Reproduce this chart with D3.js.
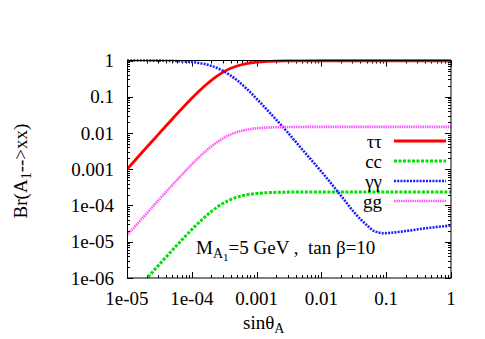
<!DOCTYPE html>
<html>
<head>
<meta charset="utf-8">
<script src="https://cdn.jsdelivr.net/npm/d3@7"></script>
<style>
  body { margin: 0; background: #fff; }
  text { font-family: "Liberation Serif", "DejaVu Serif", serif; fill: #000; }
</style>
</head>
<body>
<svg id="chart" width="485" height="339"></svg>
<script>
// values
const sGrid = [1e-5, 1.5e-5, 2e-5, 3e-5, 5e-5, 7e-5, 1e-4, 1.5e-4, 2e-4, 3e-4, 4e-4, 5e-4, 7e-4,
               1e-3, 1.5e-3, 2e-3, 3e-3, 5e-3, 1e-2, 0.1, 1];
const brTauTau = [1.0e-3, 2.25e-3, 3.98e-3, 8.9e-3, 0.0244, 0.0467, 0.091, 0.183, 0.284, 0.47, 0.61, 0.707, 0.82,
                  0.897, 0.944, 0.962, 0.974, 0.981, 0.984, 0.985, 0.985];
const brCC = [2.4e-7, 5.4e-7, 9.55e-7, 2.14e-6, 5.86e-6, 1.12e-5, 2.18e-5, 4.39e-5, 6.82e-5, 1.13e-4, 1.46e-4, 1.70e-4, 1.97e-4,
              2.15e-4, 2.27e-4, 2.31e-4, 2.34e-4, 2.35e-4, 2.36e-4, 2.36e-4, 2.36e-4];
const brGG = [1.5e-5, 3.37e-5, 5.97e-5, 1.34e-4, 3.66e-4, 7.0e-4, 1.37e-3, 2.75e-3, 4.26e-3, 7.05e-3, 9.15e-3, 0.0106, 0.0123,
              0.01345, 0.01416, 0.01443, 0.0146, 0.0147, 0.01476, 0.01478, 0.01478];
const sGamma = [1e-5, 3e-5, 5e-5, 7e-5, 1e-4, 1.5e-4, 2e-4, 3e-4, 4e-4, 5e-4, 7e-4, 1e-3, 1.5e-3, 2e-3, 3e-3,
                5e-3, 1e-2, 0.0176, 0.0405, 0.05, 0.064, 0.092, 0.168, 0.44, 1];
const brGamma = [0.999, 0.991, 0.976, 0.952, 0.908, 0.814, 0.711, 0.522, 0.381, 0.283, 0.167, 0.088, 0.041, 0.0235, 0.0105,
                 3.6e-3, 8.6e-4, 2.5e-4, 4.1e-5, 2.9e-5, 2.0e-5, 1.72e-5, 1.9e-5, 2.4e-5, 2.8e-5];

const xTickVals = [1e-5, 1e-4, 1e-3, 1e-2, 0.1, 1];
const xTickLabels = ["1e-05", "1e-04", "0.001", "0.01", "0.1", "1"];
const yTickVals = [1, 0.1, 0.01, 0.001, 1e-4, 1e-5, 1e-6];
const yTickLabels = ["1", "0.1", "0.01", "0.001", "1e-04", "1e-05", "1e-06"];

const legendNames = ["\u03c4\u03c4", "cc", "\u03b3\u03b3", "gg"];

let svg = d3.select("#chart");
svg.append("rect").attr("width", 485).attr("height", 339).attr("fill", "#fff");

let pLeft = 127, pRight = 451, pTop = 60.5, pBottom = 278;

let xMap = d3.scaleLog().domain([1e-5, 1]).range([pLeft, pRight]);
let yMap = d3.scaleLog().domain([1e-6, 1]).range([pBottom, pTop]);

svg.append("clipPath").attr("id", "plotclip")
    .append("rect").attr("x", pLeft).attr("y", pTop - 3)
    .attr("width", pRight - pLeft).attr("height", pBottom - pTop + 3);

// minor ticks at 2..9 of every decade
let minorX = [], minorY = [];
for (let e = -5; e < 0; e++) for (let m = 2; m <= 9; m++) minorX.push(m * Math.pow(10, e));
for (let e = -6; e < 0; e++) for (let m = 2; m <= 9; m++) minorY.push(m * Math.pow(10, e));

let ticks = svg.append("g").attr("stroke", "#000").attr("stroke-width", 1);
xTickVals.forEach(v => {
    let x = Math.round(xMap(v)) + 0.5;
    ticks.append("line").attr("x1", x).attr("x2", x).attr("y1", pBottom).attr("y2", pBottom - 6);
    ticks.append("line").attr("x1", x).attr("x2", x).attr("y1", pTop).attr("y2", pTop + 6);
});
minorX.forEach(v => {
    let x = Math.round(xMap(v)) + 0.5;
    ticks.append("line").attr("x1", x).attr("x2", x).attr("y1", pBottom).attr("y2", pBottom - 3);
    ticks.append("line").attr("x1", x).attr("x2", x).attr("y1", pTop).attr("y2", pTop + 3);
});
yTickVals.forEach(v => {
    let y = Math.round(yMap(v)) + 0.5;
    ticks.append("line").attr("x1", pLeft).attr("x2", pLeft + 6).attr("y1", y).attr("y2", y);
    ticks.append("line").attr("x1", pRight).attr("x2", pRight - 6).attr("y1", y).attr("y2", y);
});
minorY.forEach(v => {
    let y = Math.round(yMap(v)) + 0.5;
    ticks.append("line").attr("x1", pLeft).attr("x2", pLeft + 3).attr("y1", y).attr("y2", y);
    ticks.append("line").attr("x1", pRight).attr("x2", pRight - 3).attr("y1", y).attr("y2", y);
});

// tick labels
svg.append("g").selectAll("text").data(xTickVals).enter().append("text")
    .attr("x", d => xMap(d)).attr("y", 305)
    .attr("text-anchor", "middle").attr("font-size", 19)
    .text((d, i) => xTickLabels[i]);
svg.append("g").selectAll("text").data(yTickVals).enter().append("text")
    .attr("x", 114).attr("y", d => yMap(d) + 6.5)
    .attr("text-anchor", "end").attr("font-size", 19)
    .text((d, i) => yTickLabels[i]);

// curves
let line = d3.line().x(d => xMap(d[0])).y(d => yMap(d[1])).curve(d3.curveMonotoneX);
let series = [
    {pts: d3.zip(sGrid, brTauTau), color: "#ff0000", width: 2.8, dash: null},
    {pts: d3.zip(sGrid, brCC), color: "#00e000", width: 3, dash: "3,1.5"},
    {pts: d3.zip(sGamma, brGamma), color: "#1c1cff", width: 2.6, dash: "2,1.2"},
    {pts: d3.zip(sGrid, brGG), color: "#ff55ff", width: 2.6, dash: "1.5,0.8"}
];
let curves = svg.append("g").attr("clip-path", "url(#plotclip)");
series.forEach(s => {
    curves.append("path").attr("d", line(s.pts))
        .attr("fill", "none").attr("stroke", s.color)
        .attr("stroke-width", s.width)
        .attr("stroke-dasharray", s.dash);
});

// legend
let legY = d3.scalePoint().domain(legendNames).range([141, 201]);
let leg = svg.append("g");
series.forEach((s, i) => {
    let y = legY(legendNames[i]);
    leg.append("line").attr("x1", 394).attr("x2", 446).attr("y1", y).attr("y2", y)
        .attr("stroke", s.color).attr("stroke-width", s.width).attr("stroke-dasharray", s.dash);
    leg.append("text").attr("x", 382).attr("y", y + 6.5)
        .attr("text-anchor", "end").attr("font-size", 19).text(legendNames[i]);
});

// border
svg.append("rect").attr("x", pLeft + 0.5).attr("y", pTop).attr("width", pRight - pLeft - 0.5).attr("height", pBottom - pTop)
    .attr("fill", "none").attr("stroke", "#000").attr("stroke-width", 1);

// annotation
let ann = svg.append("text").attr("x", 196).attr("y", 254).attr("font-size", 19)
    .attr("xml:space", "preserve");
ann.append("tspan").text("M");
ann.append("tspan").attr("font-size", 14).attr("dy", 4).text("A");
ann.append("tspan").attr("font-size", 11).attr("dy", 3).text("1");
ann.append("tspan").attr("dy", -7).text("=5 GeV ,  tan \u03b2=10");

// axis labels
let xl = svg.append("text").attr("x", 243).attr("y", 329).attr("font-size", 19);
xl.append("tspan").text("sin\u03b8");
xl.append("tspan").attr("font-size", 14).attr("dy", 4).text("A");

let yl = svg.append("text").attr("transform", "translate(27,171) rotate(-90)")
    .attr("text-anchor", "middle").attr("font-size", 19);
yl.append("tspan").text("Br(A");
yl.append("tspan").attr("font-size", 14).attr("dy", 4).text("1");
yl.append("tspan").attr("dy", -4).text("-->xx)");
</script>
</body>
</html>
